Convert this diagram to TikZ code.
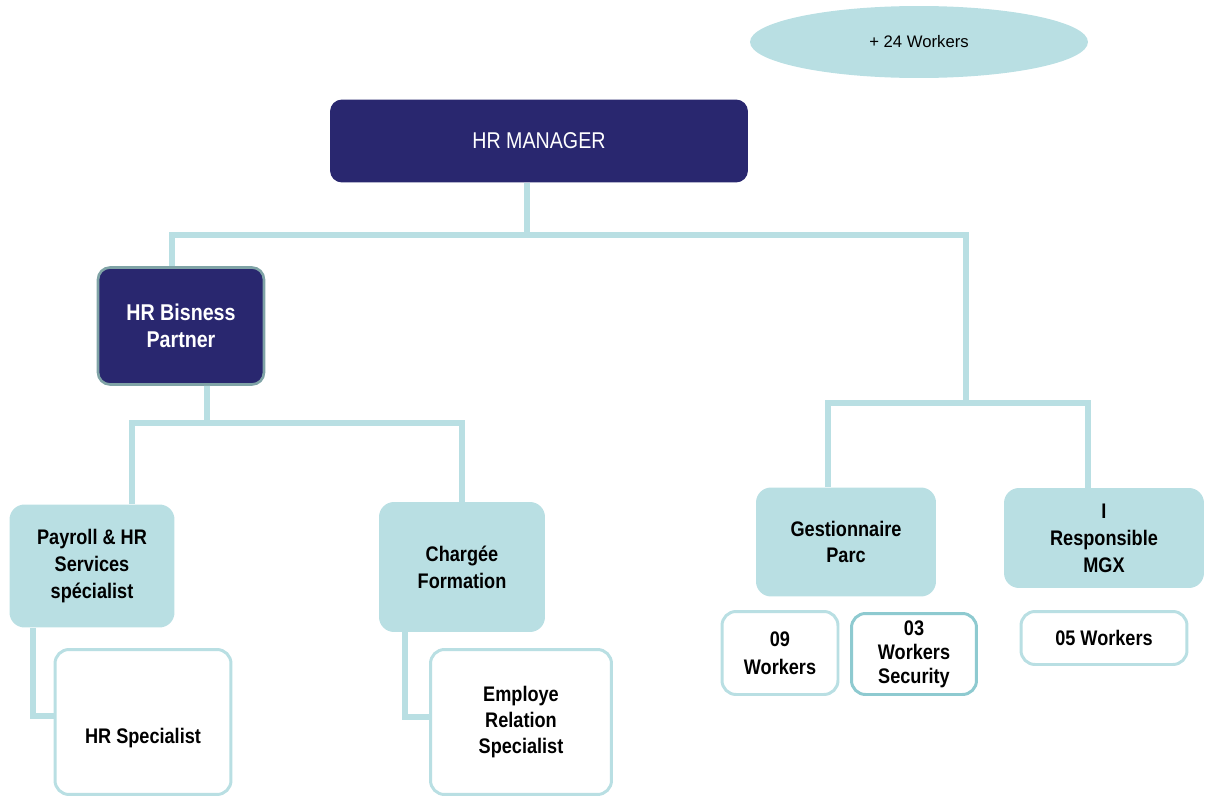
\documentclass[tikz,border=0pt]{standalone}
\usepackage{fontspec}
\setmainfont{Liberation Sans}[FakeStretch=0.86]
\newfontfamily\widefont{Liberation Sans}
\usetikzlibrary{shapes.geometric}
\definecolor{nvx}{HTML}{29276F}
\definecolor{tlx}{HTML}{B9DFE3}
\definecolor{tdx}{HTML}{8ECAD0}
\definecolor{gbx}{HTML}{7FA3A6}
\tikzset{
    link/.style={tlx,line width=3.4pt},
    dark/.style={fill=nvx,text=white,rounded corners=0.24cm,align=center,inner sep=0pt},
    pale/.style={fill=tlx,rounded corners=0.3cm,align=center,inner sep=0pt,font=\bfseries\fontsize{12}{15.3}\selectfont},
    open/.style={draw=tlx,line width=1.7pt,fill=white,rounded corners=0.28cm,align=center,inner sep=0pt,font=\bfseries\fontsize{12}{15}\selectfont}
}
\begin{document}
\begin{tikzpicture}[x=0.02cm,y=-0.02cm]
    \useasboundingbox (0,0) rectangle (1205,798);
    % top of the chart
    \node [ellipse,fill=tlx,minimum width=6.76cm,minimum height=1.44cm,font=\widefont\fontsize{9.5}{11}\selectfont]
        (extra) at (919,42) {+ 24 Workers};
    \node [dark,minimum width=8.36cm,minimum height=1.66cm,font=\fontsize{13}{15}\selectfont]
        (manager) at (539,141) {HR MANAGER};
    \node [dark,draw=gbx,line width=1.5pt,minimum width=3.32cm,minimum height=2.34cm,font=\bfseries\fontsize{13}{15.3}\selectfont]
        (partner) at (181,326) {HR Bisness\\Partner};
    % second level
    \node [pale,minimum width=3.3cm,minimum height=2.46cm] (payroll) at (92,566) {Payroll \& HR\\Services\\spécialist};
    \node [pale,minimum width=3.32cm,minimum height=2.6cm] (formation) at (462,567) {Chargée\\Formation};
    \node [pale,minimum width=3.6cm,minimum height=2.18cm] (parc) at (846,542) {Gestionnaire\\Parc};
    \node [pale,minimum width=4.0cm,minimum height=2.0cm] (mgx) at (1104,538) {I\\Responsible\\MGX};
    % white boxes
    \node [open,minimum width=3.52cm,minimum height=2.9cm,text height=27pt,text depth=3pt] (hrspec) at (143,722) {HR Specialist};
    \node [open,minimum width=3.62cm,minimum height=2.9cm] (relation) at (521,722) {Employe\\Relation\\Specialist};
    \node [open,minimum width=2.32cm,minimum height=1.66cm,font=\bfseries\fontsize{12}{16}\selectfont] (wnine) at (780,653) {09\\Workers};
    \node [open,draw=tdx,minimum width=2.5cm,minimum height=1.62cm,font=\bfseries\fontsize{12}{13.6}\selectfont]
        (wthree) at (914,654) {03\\Workers\\Security};
    \node [open,minimum width=3.32cm,minimum height=1.06cm] (wfive) at (1104,638) {05 Workers};
    % connectors
    \coordinate (barA) at (527,235);
    \coordinate (barB) at (966,403);
    \coordinate (barC) at (207,423);
    \draw [link] ([xshift=-0.24cm]manager.south) -- (barA);
    \draw [link] ([xshift=-0.18cm]partner.north) |- (barA) -| (barB);
    \draw [link] ([xshift=-0.36cm]parc.north) |- (barB) -| ([xshift=-0.32cm]mgx.north);
    \draw [link] ([xshift=0.52cm]partner.south) -- (barC);
    \draw [link] ([xshift=0.8cm]payroll.north) |- (barC) -| (formation.north);
    \draw [link] ([xshift=-1.18cm]payroll.south) |- ([yshift=0.12cm]hrspec.west);
    \draw [link] ([xshift=-1.14cm]formation.south) |- ([yshift=0.1cm]relation.west);
\end{tikzpicture}
\end{document}
